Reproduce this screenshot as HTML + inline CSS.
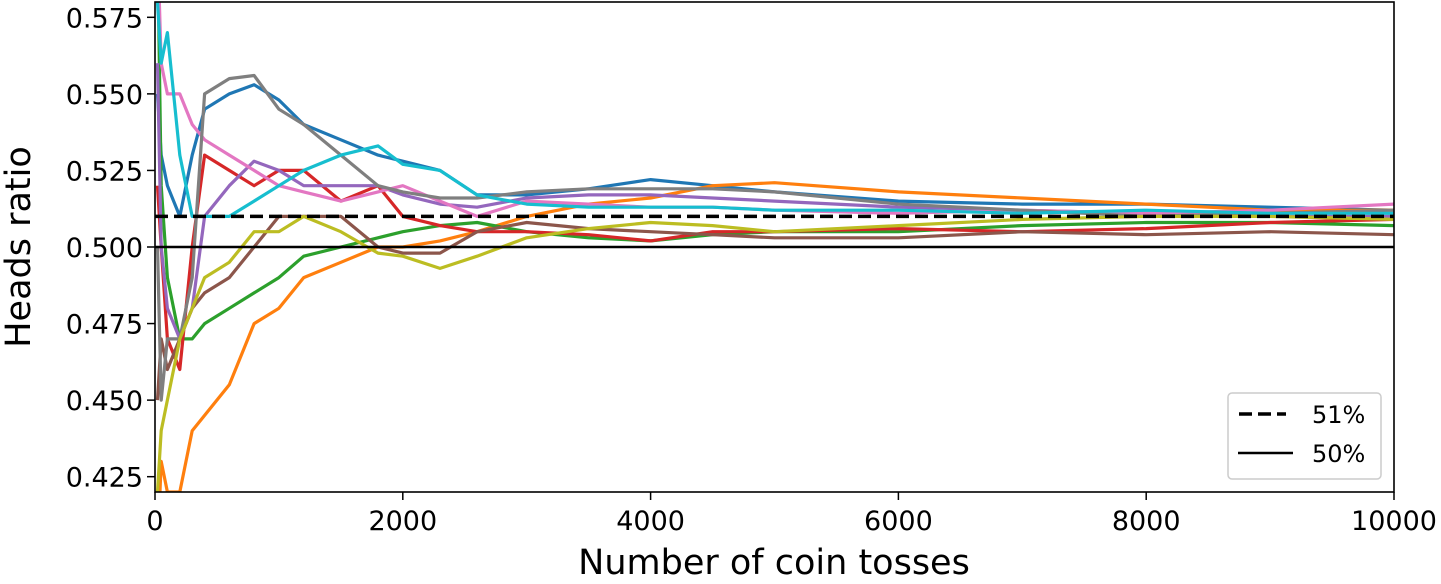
<!DOCTYPE html>
<html><head><meta charset="utf-8"><style>
body{margin:0;background:#fff}
svg text{font-family:"DejaVu Sans","Liberation Sans",sans-serif;fill:#000}
</style></head><body>
<svg id="chart" width="1441" height="579">
<defs><clipPath id="clip"><rect x="155" y="2" width="1239" height="490"/></clipPath></defs>
<g id="series" clip-path="url(#clip)"></g>
<g id="refs"></g>
<rect x="155" y="2" width="1239" height="490" fill="none" stroke="#000" stroke-width="1.6"/>
<g id="xticks"></g>
<g id="yticks"></g>
<text x="774" y="574" font-size="35" text-anchor="middle">Number of coin tosses</text>
<text transform="translate(30,247) rotate(-90)" font-size="35" text-anchor="middle">Heads ratio</text>
<g>
<rect x="1228" y="393" width="153" height="86" rx="4" fill="#fff" stroke="#ccc" stroke-width="1.5"/>
<line x1="1239" y1="414" x2="1286" y2="414" stroke="#000" stroke-width="3.5" stroke-dasharray="13,6"/>
<text x="1312" y="423" font-size="24">51%</text>
<line x1="1238" y1="453" x2="1293" y2="453" stroke="#000" stroke-width="2.5"/>
<text x="1312" y="462" font-size="24">50%</text>
</g>
</svg>
<script>
const xs=[20,50,100,200,300,400,600,800,1000,1200,1500,1800,2000,2300,2600,3000,3500,4000,4500,5000,6000,7000,8000,9000,10000];
const blue=[0.55,0.53,0.52,0.51,0.53,0.545,0.55,0.553,0.548,0.54,0.535,0.53,0.528,0.525,0.517,0.517,0.519,0.522,0.52,0.518,0.515,0.514,0.514,0.513,0.512];
const orange=[0.4,0.43,0.42,0.42,0.44,0.445,0.455,0.475,0.48,0.49,0.495,0.5,0.5,0.502,0.505,0.51,0.514,0.516,0.52,0.521,0.518,0.516,0.514,0.512,0.512];
const green=[0.6,0.52,0.49,0.47,0.47,0.475,0.48,0.485,0.49,0.497,0.5,0.503,0.505,0.507,0.508,0.505,0.503,0.502,0.504,0.505,0.505,0.507,0.508,0.508,0.507];
const red=[0.52,0.5,0.47,0.46,0.5,0.53,0.525,0.52,0.525,0.525,0.515,0.52,0.51,0.507,0.505,0.505,0.504,0.502,0.505,0.505,0.506,0.505,0.506,0.508,0.509];
const purple=[0.56,0.5,0.48,0.47,0.48,0.51,0.52,0.528,0.525,0.52,0.52,0.52,0.517,0.514,0.513,0.516,0.517,0.517,0.516,0.515,0.513,0.512,0.511,0.51,0.51];
const brown=[0.45,0.47,0.46,0.47,0.48,0.485,0.49,0.5,0.51,0.51,0.51,0.5,0.498,0.498,0.505,0.508,0.506,0.505,0.504,0.503,0.503,0.505,0.504,0.505,0.504];
const pink=[0.6,0.56,0.55,0.55,0.54,0.535,0.53,0.525,0.52,0.518,0.515,0.518,0.52,0.515,0.51,0.515,0.514,0.513,0.513,0.512,0.511,0.512,0.511,0.512,0.514];
const gray=[0.5,0.45,0.47,0.47,0.49,0.55,0.555,0.556,0.545,0.54,0.53,0.52,0.518,0.516,0.516,0.518,0.519,0.519,0.519,0.518,0.514,0.512,0.51,0.511,0.512];
const olive=[0.42,0.44,0.45,0.47,0.48,0.49,0.495,0.505,0.505,0.51,0.505,0.498,0.497,0.493,0.497,0.503,0.506,0.508,0.507,0.505,0.507,0.509,0.51,0.51,0.509];
const cyan=[0.58,0.56,0.57,0.53,0.51,0.51,0.51,0.515,0.52,0.525,0.53,0.533,0.527,0.525,0.517,0.514,0.513,0.513,0.513,0.512,0.512,0.511,0.512,0.511,0.511];
const seriesList=[blue,orange,green,red,purple,brown,pink,gray,olive,cyan];
const seriesNames=["blue","orange","green","red","purple","brown","pink","gray","olive","cyan"];
const xTicks=[0,2000,4000,6000,8000,10000];
const yTicks=[0.425,0.45,0.475,0.5,0.525,0.55,0.575];
const yTickLabels=["0.425","0.450","0.475","0.500","0.525","0.550","0.575"];
const refValues=[0.51,0.5];

const colors=["#1f77b4","#ff7f0e","#2ca02c","#d62728","#9467bd","#8c564b","#e377c2","#7f7f7f","#bcbd22","#17becf"];
const X0=155,X1=1394,YT=2,YB=492,XMIN=0,XMAX=10000,YMIN=0.42,YMAX=0.58;
const sx=v=>X0+(v-XMIN)/(XMAX-XMIN)*(X1-X0);
const sy=v=>YB-(v-YMIN)/(YMAX-YMIN)*(YB-YT);
const NS="http://www.w3.org/2000/svg";
const sg=document.getElementById('series');
seriesList.forEach((s,i)=>{
  const p=document.createElementNS(NS,'polyline');
  p.setAttribute('points',s.map((v,j)=>sx(xs[j]).toFixed(1)+','+sy(v).toFixed(1)).join(' '));
  p.setAttribute('fill','none');p.setAttribute('stroke',colors[i]);p.setAttribute('stroke-width','3.2');
  p.setAttribute('stroke-linejoin','round');
  
  
  sg.appendChild(p);
});
const rg=document.getElementById('refs');
refValues.forEach((v,i)=>{
  const l=document.createElementNS(NS,'line');
  l.setAttribute('x1',X0);l.setAttribute('x2',X1);l.setAttribute('y1',sy(v));l.setAttribute('y2',sy(v));
  l.setAttribute('stroke','#000');l.setAttribute('stroke-width',i==0?'3.5':'2.5');
  if(i==0)l.setAttribute('stroke-dasharray','13,6');
  
  
  rg.appendChild(l);
});
const xg=document.getElementById('xticks');
xTicks.forEach(t=>{
  const l=document.createElementNS(NS,'line');
  l.setAttribute('x1',sx(t));l.setAttribute('x2',sx(t));l.setAttribute('y1',YB);l.setAttribute('y2',YB+8);
  l.setAttribute('stroke','#000');l.setAttribute('stroke-width','1.5');
  
  
  xg.appendChild(l);
  const tx=document.createElementNS(NS,'text');
  tx.setAttribute('x',sx(t));tx.setAttribute('y',530);tx.setAttribute('font-size','27');tx.setAttribute('text-anchor','middle');
  tx.textContent=t;
  
  
  xg.appendChild(tx);
});
const yg=document.getElementById('yticks');
yTicks.forEach((t,i)=>{
  const l=document.createElementNS(NS,'line');
  l.setAttribute('x1',X0-8);l.setAttribute('x2',X0);l.setAttribute('y1',sy(t));l.setAttribute('y2',sy(t));
  l.setAttribute('stroke','#000');l.setAttribute('stroke-width','1.5');
  
  
  yg.appendChild(l);
  const tx=document.createElementNS(NS,'text');
  tx.setAttribute('x',X0-12);tx.setAttribute('y',sy(t)+10);tx.setAttribute('font-size','27');tx.setAttribute('text-anchor','end');
  tx.textContent=yTickLabels[i];
  
  
  yg.appendChild(tx);
});
</script>
</body></html>
